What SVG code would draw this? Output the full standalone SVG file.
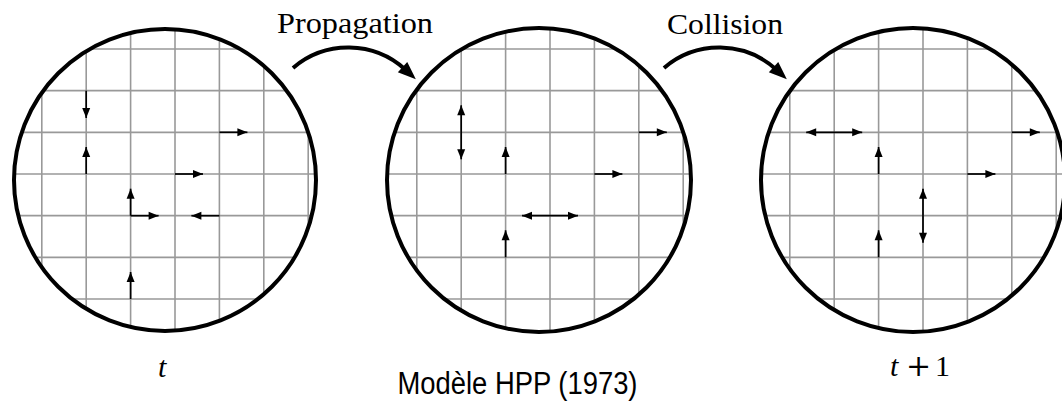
<svg xmlns="http://www.w3.org/2000/svg" width="1062" height="410" viewBox="0 0 1062 410">
<style>
.grid{stroke:#999;stroke-width:1.6;fill:none}
.ring{fill:none;stroke:#000;stroke-width:4}
.vec line{stroke:#000;stroke-width:1.7;marker-end:url(#ah)}
.vec line.dbl{marker-start:url(#ah)}
.curve{fill:none;stroke:#000;stroke-width:4;marker-end:url(#big)}
.serif{font-family:"Liberation Serif","Times New Roman",serif;font-size:30px;fill:#000}
.sans{font-family:"Liberation Sans",Arial,sans-serif;font-size:31px;fill:#000}
</style>
<defs>
<marker id="ah" markerUnits="userSpaceOnUse" orient="auto-start-reverse" refX="10" refY="0" markerWidth="11" markerHeight="9" overflow="visible">
<path d="M0,-4 L10,0 L0,4 z" fill="#000"/>
</marker>
<marker id="big" markerUnits="userSpaceOnUse" orient="auto" refX="4" refY="0" markerWidth="20" markerHeight="16" overflow="visible">
<path d="M0,-7 L18,0 L0,7 z" fill="#000"/>
</marker>
<clipPath id="c1"><circle cx="165" cy="180" r="151"/></clipPath>
<clipPath id="c2"><circle cx="539" cy="180" r="152"/></clipPath>
<clipPath id="c3"><circle cx="913" cy="180" r="152"/></clipPath>
<path id="gridlines" d="M-200,-125H200M-200,-83.33H200M-200,-41.67H200M-200,0H200M-200,41.67H200M-200,83.33H200M-200,125H200M-133.2,-200V200M-88.8,-200V200M-44.4,-200V200M0,-200V200M44.4,-200V200M88.8,-200V200M133.2,-200V200"/>
</defs>
<rect width="1062" height="410" fill="#fff"/>

<g id="state-t">
<g class="grid" clip-path="url(#c1)"><use href="#gridlines" transform="translate(175,174)"/></g>
<circle class="ring" cx="165" cy="180" r="151"/>
<g class="vec">
<line x1="86.2" y1="90.7" x2="86.2" y2="118"/>
<line x1="86.2" y1="174" x2="86.2" y2="147"/>
<line x1="219.4" y1="132.3" x2="247.4" y2="132.3"/>
<line x1="175" y1="174" x2="203" y2="174"/>
<line x1="130.6" y1="215.7" x2="130.6" y2="188.7"/>
<line x1="130.6" y1="215.7" x2="158.6" y2="215.7"/>
<line x1="219.4" y1="215.7" x2="191.4" y2="215.7"/>
<line x1="130.6" y1="299" x2="130.6" y2="272"/>
</g>
<text class="serif" x="158" y="377" font-style="italic" font-size="32">t</text>
</g>

<g id="state-propagated">
<g class="grid" clip-path="url(#c2)"><use href="#gridlines" transform="translate(550,174)"/></g>
<circle class="ring" cx="539" cy="180" r="152"/>
<g class="vec">
<line class="dbl" x1="461.2" y1="105.3" x2="461.2" y2="159.3"/>
<line x1="505.6" y1="174" x2="505.6" y2="147"/>
<line x1="638.8" y1="132.3" x2="666.8" y2="132.3"/>
<line x1="594.4" y1="174" x2="622.4" y2="174"/>
<line class="dbl" x1="522" y1="215.7" x2="578" y2="215.7"/>
<line x1="505.6" y1="257.3" x2="505.6" y2="230.3"/>
</g>
</g>

<g id="state-t1">
<g class="grid" clip-path="url(#c3)"><use href="#gridlines" transform="translate(923,174)"/></g>
<circle class="ring" cx="913" cy="180" r="152"/>
<g class="vec">
<line class="dbl" x1="806.2" y1="132.3" x2="862.2" y2="132.3"/>
<line x1="878.6" y1="174" x2="878.6" y2="147"/>
<line x1="1011.8" y1="132.3" x2="1039.8" y2="132.3"/>
<line x1="967.4" y1="174" x2="995.4" y2="174"/>
<line class="dbl" x1="923" y1="188.7" x2="923" y2="242.7"/>
<line x1="878.6" y1="257.3" x2="878.6" y2="230.3"/>
</g>
<text class="serif" y="376" font-size="33"><tspan x="890" font-style="italic">t</tspan><tspan x="906" font-family="DejaVu Serif" font-size="30">+</tspan><tspan x="935">1</tspan></text>
</g>

<g id="connectors">
<path class="curve" d="M293,68 A85,85 0 0,1 405.5,69.8"/>
<path class="curve" d="M664,68 A85,85 0 0,1 776.5,69.8"/>
</g>

<g id="labels">
<text class="serif" x="277" y="32.5" textLength="156" lengthAdjust="spacingAndGlyphs">Propagation</text>
<text class="serif" x="667" y="34" textLength="116" lengthAdjust="spacingAndGlyphs">Collision</text>
<text class="sans" x="517.5" y="394" text-anchor="middle" textLength="240" lengthAdjust="spacingAndGlyphs">Modèle HPP (1973)</text>
</g>
</svg>
